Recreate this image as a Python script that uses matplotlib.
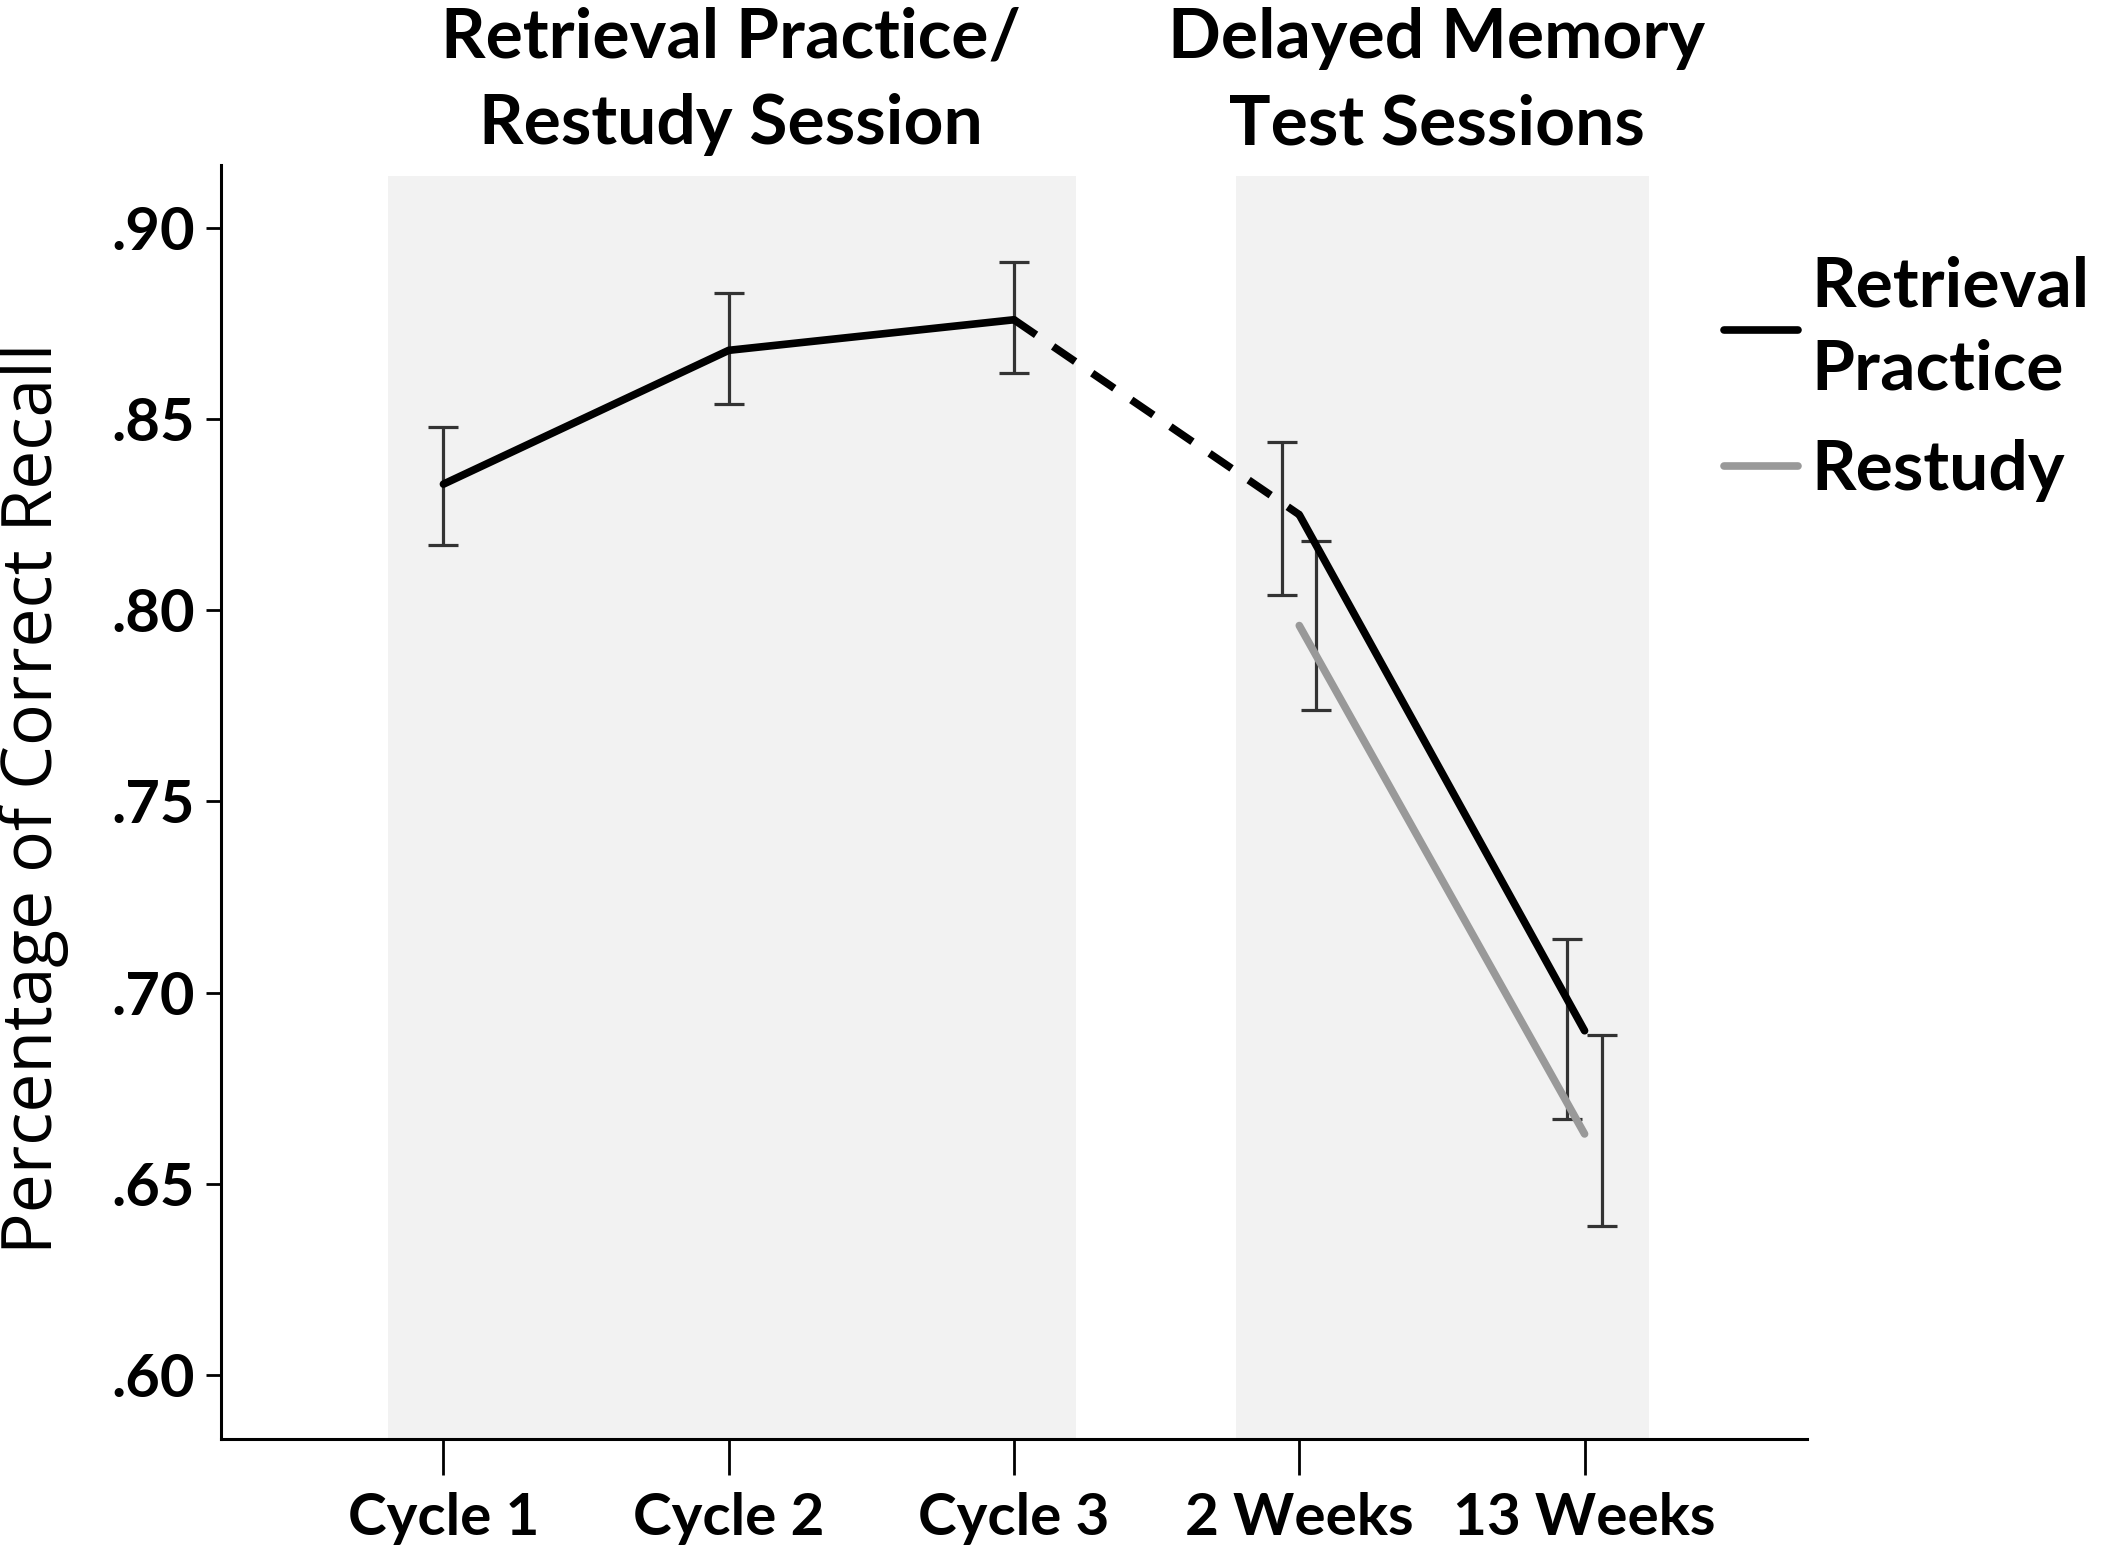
import matplotlib
matplotlib.use("Agg")
from matplotlib import pyplot as plt
from matplotlib.ticker import FuncFormatter

# data
sessions = ["Cycle 1", "Cycle 2", "Cycle 3", "2 Weeks", "13 Weeks"]
rp_mean = [0.833, 0.868, 0.876, 0.825, 0.690]
rp_low = [0.817, 0.854, 0.862, 0.804, 0.667]
rp_high = [0.848, 0.883, 0.891, 0.844, 0.714]
rs_mean = [0.796, 0.663]
rs_low = [0.774, 0.639]
rs_high = [0.818, 0.689]
y_ticks = [0.60, 0.65, 0.70, 0.75, 0.80, 0.85, 0.90]

BOLD = "Lato"
LW = 5.5
x = list(range(len(sessions)))
x_rs = x[3:]

fig = plt.figure(figsize=(21.02, 15.56), dpi=100)
ax = fig.add_axes([0.1051, 0.0752, 0.7546, 0.8188])
ax.set_xlim(-0.78, 4.78)
ax.set_ylim(0.5832, 0.9165)

# shaded session bands
ax.fill_between([-0.193, 2.219], 0.5832, 0.9137, color="#f2f2f2", lw=0, zorder=0)
ax.fill_between([2.778, 4.226], 0.5832, 0.9137, color="#f2f2f2", lw=0, zorder=0)

# retrieval practice line: solid / dashed / solid
ax.plot(x[:3], rp_mean[:3], color="black", lw=LW, solid_capstyle="round", zorder=3)
ax.plot(x[2:4], rp_mean[2:4], color="black", lw=LW, dashes=(3.5, 2.7), zorder=3)
ax.plot(x[3:], rp_mean[3:], color="black", lw=LW, solid_capstyle="round", zorder=3,
        label="Retrieval\nPractice")
ax.plot(x_rs, rs_mean, color="#999999", lw=LW, solid_capstyle="round", zorder=3,
        label="Restudy")

# error bars (delayed tests offset like clustered spss output)
rp_x = [0, 1, 2, 3 - 0.06, 4 - 0.06]
rs_x = [3 + 0.06, 4 + 0.06]
ax.errorbar(rp_x, rp_mean,
            yerr=[[m - l for m, l in zip(rp_mean, rp_low)], [h - m for m, h in zip(rp_mean, rp_high)]],
            fmt="none", ecolor="#333333", elinewidth=2.3, capsize=11, capthick=2.3, zorder=2)
ax.errorbar(rs_x, rs_mean,
            yerr=[[m - l for m, l in zip(rs_mean, rs_low)], [h - m for m, h in zip(rs_mean, rs_high)]],
            fmt="none", ecolor="#333333", elinewidth=2.3, capsize=11, capthick=2.3, zorder=2)

# axes styling
for side in ["top", "right"]:
    ax.spines[side].set_visible(False)
for side in ["left", "bottom"]:
    ax.spines[side].set_linewidth(2.2)
ax.set_xticks(x)
ax.set_xticklabels(sessions, fontfamily=BOLD, fontweight="bold", fontsize=42)
ax.set_yticks(y_ticks)
ax.yaxis.set_major_formatter(FuncFormatter(lambda v, p: ("%.2f" % v)[1:]))
for lab in ax.get_yticklabels():
    lab.set_fontfamily(BOLD)
    lab.set_fontweight("bold")
    lab.set_fontsize(43)
ax.tick_params(axis="x", length=26, width=2, pad=12)
ax.tick_params(axis="y", length=11, width=2, pad=8)

fig.text(34 / 2102, 1 - 798 / 1556, "Percentage of Correct Recall", rotation=90,
         ha="center", va="center", fontfamily="Open Sans", fontsize=50)

# session headings
fig.text(731 / 2102, 1 - 38 / 1556, "Retrieval Practice/", ha="center", va="center",
         fontfamily=BOLD, fontweight="bold", fontsize=50)
fig.text(731 / 2102, 1 - 125 / 1556, "Restudy Session", ha="center", va="center",
         fontfamily=BOLD, fontweight="bold", fontsize=50)
fig.text(1437 / 2102, 1 - 38 / 1556, "Delayed Memory", ha="center", va="center",
         fontfamily=BOLD, fontweight="bold", fontsize=50)
fig.text(1437 / 2102, 1 - 125 / 1556, "Test Sessions", ha="center", va="center",
         fontfamily=BOLD, fontweight="bold", fontsize=50)

leg = ax.legend(loc="upper left", bbox_to_anchor=(0.926, 0.956), frameon=False, borderpad=0,
                handlelength=1.06, handletextpad=0.19, labelspacing=0.55,
                prop={"family": BOLD, "weight": "bold", "size": 50})
for t in leg.get_texts():
    t.set_linespacing(1.38)

fig.savefig("out.png", dpi=100)
